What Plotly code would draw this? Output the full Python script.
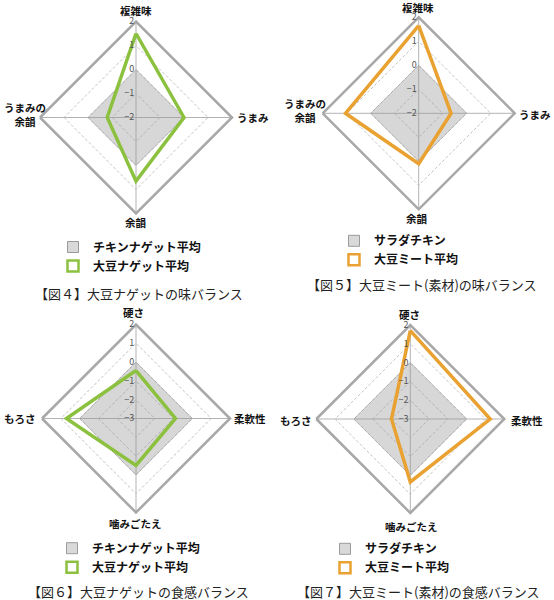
import plotly.graph_objects as go

# ---- data ----
taste_axes = ['複雑味', 'うまみ', '余韻', 'うまみの<br>余韻']
texture_axes = ['硬さ', '柔軟性', '噛みごたえ', 'もろさ']

chicken_nugget_taste = [0, 0, 0, 0]
soy_nugget_taste = [1.5, 0.0, 0.65, -0.8]

salad_chicken_taste = [0, 0, 0, 0]
soy_meat_taste = [1.65, -0.65, 0.1, 1.05]

chicken_nugget_texture = [0, 0, 0, 0]
soy_nugget_texture = [-0.45, -0.9, -0.5, 0.7]

salad_chicken_texture = [0, 0, 0, 0]
soy_meat_texture = [1.7, 1.25, 0.35, -2.0]

ref_names = ['チキンナゲット平均', 'サラダチキン', 'チキンナゲット平均', 'サラダチキン']
soy_names = ['大豆ナゲット平均', '大豆ミート平均', '大豆ナゲット平均', '大豆ミート平均']
captions = ['【図４】大豆ナゲットの味バランス', '【図５】大豆ミート(素材)の味バランス',
            '【図６】大豆ナゲットの食感バランス', '【図７】大豆ミート(素材)の食感バランス']

GREEN = '#8cc13f'
ORANGE = '#e9a232'
W, H = 554, 600

panels = [
    dict(axes=taste_axes, ref=chicken_nugget_taste, soy=soy_nugget_taste, color=GREEN,
         rng=[-2, 2], cx=136, cy=117.5, r=96, leg=(53, 232.5), cap=(139, 293),
         labels=[(136, 11), (253, 117), (136, 222), (25, 114.5)]),
    dict(axes=taste_axes, ref=salad_chicken_taste, soy=soy_meat_taste, color=ORANGE,
         rng=[-2, 2], cx=418.7, cy=113.3, r=96, leg=(334, 226.3), cap=(422, 284),
         labels=[(418.3, 7.5), (535, 115), (417, 218.3), (305, 110.3)]),
    dict(axes=texture_axes, ref=chicken_nugget_texture, soy=soy_nugget_texture, color=GREEN,
         rng=[-3, 2], cx=136, cy=418.5, r=94, leg=(52, 533.7), cap=(138, 591.5),
         labels=[(133.5, 312.7), (250, 418.3), (135.5, 523.3), (20, 418.3)]),
    dict(axes=texture_axes, ref=salad_chicken_texture, soy=soy_meat_texture, color=ORANGE,
         rng=[-3, 2], cx=410.3, cy=419, r=94, leg=(325, 534.3), cap=(418, 591),
         labels=[(409.7, 314), (527, 420), (411.5, 526), (296, 420.7)]),
]

fig = go.Figure()
layout = dict(width=W, height=H, margin=dict(l=0, r=0, t=0, b=0),
              paper_bgcolor='white', plot_bgcolor='white', showlegend=True,
              font=dict(family='Noto Sans CJK JP', color='#222'))
annotations = []

for i, p in enumerate(panels):
    pid = 'polar' if i == 0 else f'polar{i+1}'
    lid = 'legend' if i == 0 else f'legend{i+1}'
    theta = p['axes'] + p['axes'][:1]
    ref_r = p['ref'] + p['ref'][:1]
    soy_r = p['soy'] + p['soy'][:1]
    fig.add_trace(go.Scatterpolar(r=ref_r, theta=theta, mode='lines', fill='toself',
                                  fillcolor='rgba(150,150,150,0.38)',
                                  line=dict(color='rgba(150,150,150,0.5)', width=0.8),
                                  subplot=pid, showlegend=False, hoverinfo='skip'))
    fig.add_trace(go.Scatterpolar(r=soy_r, theta=theta, mode='lines',
                                  line=dict(color=p['color'], width=3.5),
                                  subplot=pid, showlegend=False, hoverinfo='skip'))
    # legend entries
    fig.add_trace(go.Scatterpolar(r=[None], theta=[p['axes'][0]], mode='markers',
                                  marker=dict(symbol='square', size=11, color='#d9d9d9',
                                              line=dict(color='#9a9a9a', width=1)),
                                  name=f'<b>{ref_names[i]}</b>', subplot=pid, legend=lid))
    fig.add_trace(go.Scatterpolar(r=[None], theta=[p['axes'][0]], mode='markers',
                                  marker=dict(symbol='square-open', size=11, color=p['color'],
                                              line=dict(color=p['color'], width=2.5)),
                                  name=f'<b>{soy_names[i]}</b>', subplot=pid, legend=lid))
    r = p['r']
    layout[pid] = dict(
        domain=dict(x=[(p['cx'] - r) / W, (p['cx'] + r) / W],
                    y=[1 - (p['cy'] + r) / H, 1 - (p['cy'] - r) / H]),
        gridshape='linear', bgcolor='white',
        radialaxis=dict(range=p['rng'], dtick=1, angle=90, side='counterclockwise',
                        tickangle=90,
                        showline=False, ticks='', gridcolor='#c4c4c4', griddash='3px,2px',
                        gridwidth=1, tickfont=dict(size=9, color='#555', family='Noto Sans CJK JP')),
        angularaxis=dict(direction='clockwise', rotation=90, ticks='', showticklabels=False,
                         showline=True, linecolor='#a8a8a8', linewidth=2.5,
                         gridcolor='#b3b3b3', gridwidth=1),
    )
    lx, ly = p['leg']
    layout[lid] = dict(x=lx / W, y=1 - ly / H, xanchor='left', yanchor='top',
                       bgcolor='rgba(0,0,0,0)', borderwidth=0, tracegroupgap=0,
                       font=dict(size=12, color='#111', family='Noto Sans CJK JP'))
    # category labels
    for name, (ax_, ay_) in zip(p['axes'], p['labels']):
        annotations.append(dict(text=f'<b>{name}</b>', x=ax_ / W, y=1 - ay_ / H,
                                xref='paper', yref='paper', showarrow=False,
                                xanchor='center', yanchor='middle', align='center',
                                font=dict(size=10.5, color='#111', family='Noto Sans CJK JP')))
    annotations.append(dict(text=captions[i], x=p['cap'][0] / W, y=1 - p['cap'][1] / H,
                            xref='paper', yref='paper', showarrow=False,
                            xanchor='center', yanchor='middle',
                            font=dict(size=13, color='#222', family='Noto Sans CJK JP')))

layout['annotations'] = annotations
fig.update_layout(**layout)
fig.write_html('out.html', config={'displayModeBar': False},
               post_script="document.body.style.margin='0';")
